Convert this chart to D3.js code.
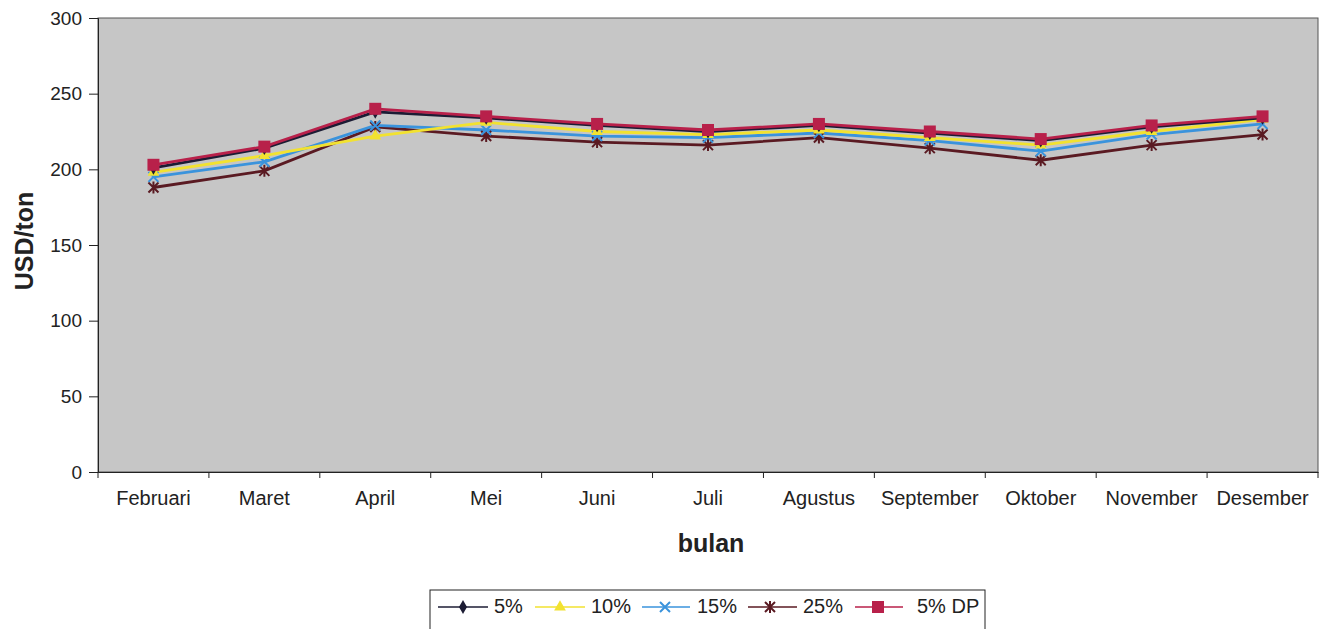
<!DOCTYPE html>
<html>
<head>
<meta charset="utf-8">
<script src="https://cdn.jsdelivr.net/npm/d3@7"></script>
<style>
  body { margin: 0; background: #fff; }
  svg { display: block; font-family: "Liberation Sans", Arial, sans-serif; }
</style>
</head>
<body>
<svg id="chart" width="1331" height="629"></svg>
<script>
const months = ["Februari", "Maret", "April", "Mei", "Juni", "Juli", "Agustus", "September", "Oktober", "November", "Desember"];
const yTicks = [0, 50, 100, 150, 200, 250, 300];

const s5 = [201, 214, 238, 234, 229, 225, 229, 224, 219, 228, 234];
const s10 = [198, 209, 222, 231, 225, 223, 226, 221, 216, 225, 233];
const s15 = [195, 205, 229, 226, 222, 221, 224, 219, 212, 223, 230];
const s25 = [188, 199, 228, 222, 218, 216, 221, 214, 206, 216, 223];
const s5dp = [203, 215, 240, 235, 230, 226, 230, 225, 220, 229, 235];

const series = [
  { name: "5%", values: s5, color: "#1c1c34", marker: "diamond" },
  { name: "10%", values: s10, color: "#f2e230", marker: "triangle" },
  { name: "15%", values: s15, color: "#3a93dc", marker: "cross" },
  { name: "25%", values: s25, color: "#5a1a22", marker: "star" },
  { name: "5% DP", values: s5dp, color: "#b8204a", marker: "square" }
];

const svg = d3.select("#chart");
const m = { left: 98, top: 18, right: 1318, bottom: 472 };

const x = d3.scaleBand().domain(months).range([m.left, m.right]);
const y = d3.scaleLinear().domain([0, 300]).range([m.bottom, m.top]);

// plot area
svg.append("rect")
  .attr("x", m.left).attr("y", m.top)
  .attr("width", m.right - m.left).attr("height", m.bottom - m.top)
  .attr("fill", "#c6c6c6").attr("stroke", "#555").attr("stroke-width", 1);

// axes
const yAxis = svg.append("g").attr("transform", `translate(${m.left},0)`)
  .call(d3.axisLeft(y).tickValues(yTicks).tickSize(9).tickPadding(7));
yAxis.select(".domain").attr("stroke", "#222");
yAxis.selectAll("line").attr("stroke", "#222");
yAxis.selectAll("text").attr("font-size", 19).attr("fill", "#222").attr("font-family", "Liberation Sans, Arial");

const xAxis = svg.append("g").attr("transform", `translate(0,${m.bottom})`)
  .call(d3.axisBottom(x).tickSize(0).tickPadding(19));
xAxis.select(".domain").attr("stroke", "#222");
xAxis.selectAll("text").attr("font-size", 20).attr("fill", "#222").attr("font-family", "Liberation Sans, Arial");
// category boundary ticks
svg.append("g").selectAll("line")
  .data(months.concat(["end"]))
  .join("line")
  .attr("x1", (d, i) => m.left + i * x.bandwidth())
  .attr("x2", (d, i) => m.left + i * x.bandwidth())
  .attr("y1", m.bottom).attr("y2", m.bottom + 6)
  .attr("stroke", "#222");

// axis titles
svg.append("text")
  .attr("x", 711).attr("y", 552)
  .attr("text-anchor", "middle").attr("font-size", 25).attr("font-weight", "bold").attr("fill", "#222")
  .text("bulan");
svg.append("text")
  .attr("transform", `translate(33,241) rotate(-90)`)
  .attr("text-anchor", "middle").attr("font-size", 25).attr("font-weight", "bold").attr("fill", "#222")
  .text("USD/ton");

const line = d3.line().x((d, i) => x(months[i]) + x.bandwidth() / 2).y(d => y(d));

function drawMarker(g, type, color) {
  if (type === "diamond") {
    g.append("path").attr("d", d3.symbol(d3.symbolDiamond, 55)()).attr("fill", color);
  } else if (type === "triangle") {
    g.append("path").attr("d", d3.symbol(d3.symbolTriangle, 60)()).attr("fill", color);
  } else if (type === "cross") {
    g.append("path").attr("d", "M-5,-5L5,5M-5,5L5,-5").attr("stroke", color).attr("stroke-width", 2).attr("fill", "none");
  } else if (type === "star") {
    g.append("path").attr("d", "M-5,-5L5,5M-5,5L5,-5M0,-6L0,6").attr("stroke", color).attr("stroke-width", 2).attr("fill", "none");
  } else if (type === "square") {
    g.append("rect").attr("x", -6).attr("y", -6).attr("width", 12).attr("height", 12).attr("fill", color);
  }
}

// draw series (bottom first so 5% DP sits on top)
const order = [3, 2, 1, 0, 4];
order.forEach(k => {
  const s = series[k];
  svg.append("path").datum(s.values)
    .attr("d", line).attr("fill", "none")
    .attr("stroke", s.color).attr("stroke-width", 2.8);
});
order.forEach(k => {
  const s = series[k];
  s.values.forEach((v, i) => {
    const g = svg.append("g").attr("transform", `translate(${x(months[i]) + x.bandwidth() / 2},${y(v)})`);
    drawMarker(g, s.marker, s.color);
  });
});

// legend
const legend = svg.append("g");
legend.append("rect").attr("x", 430).attr("y", 590).attr("width", 555).attr("height", 50)
  .attr("fill", "#fff").attr("stroke", "#222").attr("stroke-width", 1);
const legendPos = [
  { x1: 438, x2: 488, mx: 463, tx: 494 },
  { x1: 535, x2: 585, mx: 560, tx: 591 },
  { x1: 642, x2: 690, mx: 665, tx: 697 },
  { x1: 748, x2: 797, mx: 770, tx: 803 },
  { x1: 855, x2: 903, mx: 878, tx: 917 }
];
series.forEach((s, i) => {
  const p = legendPos[i];
  legend.append("line").attr("x1", p.x1).attr("x2", p.x2).attr("y1", 607).attr("y2", 607)
    .attr("stroke", s.color).attr("stroke-width", 1.5);
  const g = legend.append("g").attr("transform", `translate(${p.mx},607)`);
  drawMarker(g, s.marker, s.color);
  legend.append("text").attr("x", p.tx).attr("y", 613).attr("font-size", 20).attr("fill", "#222").text(s.name);
});
</script>
</body>
</html>
